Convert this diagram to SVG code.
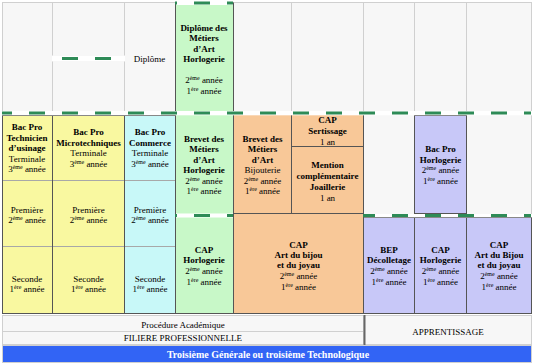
<svg xmlns="http://www.w3.org/2000/svg" width="534" height="364" viewBox="0 0 534 364">
<style>
.t{font-family:"Liberation Serif","Times New Roman",serif;font-size:9px;text-anchor:middle;fill:#000}
.b{font-weight:bold}
.lt{fill:#f7f7f7;stroke:#d0d0d0;stroke-width:1}
.ll{stroke:#d0d0d0;stroke-width:1;fill:none}
.dk{stroke:#555;stroke-width:1;fill:none}
.sep{stroke:#a8a8a8;stroke-width:1}
.yel{fill:#f9f8a0;stroke:#555;stroke-width:1}
.cya{fill:#c8f8f8;stroke:#555;stroke-width:1}
.grn{fill:#c8f8c8}
.ora{fill:#f8c898;stroke:#555;stroke-width:1}
.lav{fill:#c8c8f8;stroke:#555;stroke-width:1}
.band{fill:#fff}
.dash{stroke:#2e8b57;stroke-width:3;stroke-dasharray:16 17;fill:none}
</style>
<rect x="0" y="0" width="534" height="364" fill="#fff"/>
<!-- background grid -->
<g id="grid">
<rect class="lt" x="2.5" y="2.5" width="529" height="311"/>
<line class="ll" x1="52.5" y1="2.5" x2="52.5" y2="55.5"/>
<line class="ll" x1="52.5" y1="61.5" x2="52.5" y2="111"/>
<line class="ll" x1="124.5" y1="2.5" x2="124.5" y2="55.5"/>
<line class="ll" x1="124.5" y1="61.5" x2="124.5" y2="111"/>
<line class="ll" x1="291.5" y1="2.5" x2="291.5" y2="111"/>
<line class="ll" x1="363.5" y1="2.5" x2="363.5" y2="111"/>
<line class="ll" x1="414.5" y1="2.5" x2="414.5" y2="111"/>
<line class="ll" x1="466.5" y1="2.5" x2="466.5" y2="111"/>
</g>
<g id="diplome-label">
<text class="t" x="149.5" y="62">Diplôme</text>
</g>
<!-- green column -->
<g id="green-col">
<rect class="grn" x="175.5" y="2.5" width="58" height="311"/>
<line class="dk" x1="175.5" y1="2.5" x2="175.5" y2="313.5"/>
<line class="dk" x1="233.5" y1="2.5" x2="233.5" y2="313.5"/>
<line class="dk" x1="175.5" y1="313.5" x2="233.5" y2="313.5"/>
</g>
<g id="dma-horlogerie">
<text class="t b" x="204" y="30.5">Diplôme des</text>
<text class="t b" x="204" y="41">Métiers</text>
<text class="t b" x="204" y="51.5">d’Art</text>
<text class="t b" x="204" y="62">Horlogerie</text>
<text class="t" x="204" y="83">2<tspan dy="-3" font-size="6">ème</tspan><tspan dy="3"> année</tspan></text>
<text class="t" x="204" y="93.5">1<tspan dy="-3" font-size="6">ère</tspan><tspan dy="3"> année</tspan></text>
</g>
<g id="bma-horlogerie">
<text class="t b" x="204" y="141.5">Brevet des</text>
<text class="t b" x="204" y="152">Métiers</text>
<text class="t b" x="204" y="162.5">d’Art</text>
<text class="t b" x="204" y="173">Horlogerie</text>
<text class="t" x="204" y="183.5">2<tspan dy="-3" font-size="6">ème</tspan><tspan dy="3"> année</tspan></text>
<text class="t" x="204" y="194">1<tspan dy="-3" font-size="6">ère</tspan><tspan dy="3"> année</tspan></text>
</g>
<g id="cap-horlogerie">
<text class="t b" x="204" y="252.5">CAP</text>
<text class="t b" x="204" y="263">Horlogerie</text>
<text class="t" x="204" y="274">2<tspan dy="-3" font-size="6">ème</tspan><tspan dy="3"> année</tspan></text>
<text class="t" x="204" y="284.5">1<tspan dy="-3" font-size="6">ère</tspan><tspan dy="3"> année</tspan></text>
</g>
<!-- yellow / cyan -->
<g id="bac-technicien">
<rect class="yel" x="2.5" y="115.5" width="50" height="198"/>
<line class="sep" x1="3" y1="180.5" x2="52" y2="180.5"/>
<line class="sep" x1="3" y1="246.5" x2="52" y2="246.5"/>
<text class="t b" x="27" y="130">Bac Pro</text>
<text class="t b" x="27" y="140.5">Technicien</text>
<text class="t b" x="27" y="151">d’usinage</text>
<text class="t" x="27" y="161.5">Terminale</text>
<text class="t" x="27" y="172">3<tspan dy="-3" font-size="6">ème</tspan><tspan dy="3"> année</tspan></text>
<text class="t" x="27" y="212.5">Première</text>
<text class="t" x="27" y="223">2<tspan dy="-3" font-size="6">ème</tspan><tspan dy="3"> année</tspan></text>
<text class="t" x="27" y="281.5">Seconde</text>
<text class="t" x="27" y="292">1<tspan dy="-3" font-size="6">ère</tspan><tspan dy="3"> année</tspan></text>
</g>
<g id="bac-microtech">
<rect class="yel" x="52.5" y="115.5" width="72" height="198"/>
<line class="sep" x1="53" y1="180.5" x2="124" y2="180.5"/>
<line class="sep" x1="53" y1="246.5" x2="124" y2="246.5"/>
<text class="t b" x="88.5" y="135">Bac Pro</text>
<text class="t b" x="88.5" y="145.5">Microtechniques</text>
<text class="t" x="88.5" y="156">Terminale</text>
<text class="t" x="88.5" y="166.5">3<tspan dy="-3" font-size="6">ème</tspan><tspan dy="3"> année</tspan></text>
<text class="t" x="88.5" y="212.5">Première</text>
<text class="t" x="88.5" y="223">2<tspan dy="-3" font-size="6">ème</tspan><tspan dy="3"> année</tspan></text>
<text class="t" x="88.5" y="281.5">Seconde</text>
<text class="t" x="88.5" y="292">1<tspan dy="-3" font-size="6">ère</tspan><tspan dy="3"> année</tspan></text>
</g>
<g id="bac-commerce">
<rect class="cya" x="124.5" y="115.5" width="51" height="198"/>
<line class="sep" x1="125" y1="180.5" x2="175" y2="180.5"/>
<line class="sep" x1="125" y1="246.5" x2="175" y2="246.5"/>
<text class="t b" x="150" y="135">Bac Pro</text>
<text class="t b" x="150" y="145.5">Commerce</text>
<text class="t" x="150" y="156">Terminale</text>
<text class="t" x="150" y="166.5">3<tspan dy="-3" font-size="6">ème</tspan><tspan dy="3"> année</tspan></text>
<text class="t" x="150" y="212.5">Première</text>
<text class="t" x="150" y="223">2<tspan dy="-3" font-size="6">ème</tspan><tspan dy="3"> année</tspan></text>
<text class="t" x="150" y="281.5">Seconde</text>
<text class="t" x="150" y="292">1<tspan dy="-3" font-size="6">ère</tspan><tspan dy="3"> année</tspan></text>
</g>
<!-- orange -->
<g id="bma-bijouterie">
<rect class="ora" x="233.5" y="114.5" width="58" height="99"/>
<text class="t b" x="262.5" y="141.5">Brevet des</text>
<text class="t b" x="262.5" y="152">Métiers</text>
<text class="t b" x="262.5" y="162.5">d’Art</text>
<text class="t" x="262.5" y="173">Bijouterie</text>
<text class="t" x="262.5" y="183.5">2<tspan dy="-3" font-size="6">ème</tspan><tspan dy="3"> année</tspan></text>
<text class="t" x="262.5" y="194">1<tspan dy="-3" font-size="6">ère</tspan><tspan dy="3"> année</tspan></text>
</g>
<g id="cap-sertissage">
<rect class="ora" x="291.5" y="114.5" width="72" height="32"/>
<text class="t b" x="327.5" y="123">CAP</text>
<text class="t b" x="327.5" y="134">Sertissage</text>
<text class="t" x="327.5" y="144.5">1 an</text>
</g>
<g id="mention-joaillerie">
<rect class="ora" x="291.5" y="146.5" width="72" height="67"/>
<text class="t b" x="327.5" y="168">Mention</text>
<text class="t b" x="327.5" y="179">complémentaire</text>
<text class="t b" x="327.5" y="189.5">Joaillerie</text>
<text class="t" x="327.5" y="201">1 an</text>
</g>
<g id="cap-bijou">
<rect class="ora" x="233.5" y="213.5" width="130" height="100"/>
<text class="t b" x="298.5" y="247.5">CAP</text>
<text class="t b" x="298.5" y="257.5">Art du bijou</text>
<text class="t b" x="298.5" y="268">et du joyau</text>
<text class="t" x="298.5" y="279">2<tspan dy="-3" font-size="6">ème</tspan><tspan dy="3"> année</tspan></text>
<text class="t" x="298.5" y="289.5">1<tspan dy="-3" font-size="6">ère</tspan><tspan dy="3"> année</tspan></text>
</g>
<!-- lavender -->
<g id="bac-horlogerie">
<rect class="lav" x="414.5" y="115.5" width="52" height="98"/>
<text class="t b" x="440.5" y="152">Bac Pro</text>
<text class="t b" x="440.5" y="162.5">Horlogerie</text>
<text class="t" x="440.5" y="173">2<tspan dy="-3" font-size="6">ème</tspan><tspan dy="3"> année</tspan></text>
<text class="t" x="440.5" y="183.5">1<tspan dy="-3" font-size="6">ère</tspan><tspan dy="3"> année</tspan></text>
</g>
<line class="dk" x1="363.5" y1="114.5" x2="363.5" y2="213.5"/>
<g id="bep-decolletage">
<rect class="lav" x="363.5" y="217.5" width="51" height="96"/>
<text class="t b" x="389" y="252.5">BEP</text>
<text class="t b" x="389" y="263">Décolletage</text>
<text class="t" x="389" y="274">2<tspan dy="-3" font-size="6">ème</tspan><tspan dy="3"> année</tspan></text>
<text class="t" x="389" y="284.5">1<tspan dy="-3" font-size="6">ère</tspan><tspan dy="3"> année</tspan></text>
</g>
<g id="cap-horlogerie-app">
<rect class="lav" x="414.5" y="217.5" width="52" height="96"/>
<text class="t b" x="440.5" y="252.5">CAP</text>
<text class="t b" x="440.5" y="263">Horlogerie</text>
<text class="t" x="440.5" y="274">2<tspan dy="-3" font-size="6">ème</tspan><tspan dy="3"> année</tspan></text>
<text class="t" x="440.5" y="284.5">1<tspan dy="-3" font-size="6">ère</tspan><tspan dy="3"> année</tspan></text>
</g>
<g id="cap-bijou-app">
<rect class="lav" x="466.5" y="217.5" width="65" height="96"/>
<text class="t b" x="499" y="247.5">CAP</text>
<text class="t b" x="499" y="257.5">Art du Bijou</text>
<text class="t b" x="499" y="268">et du joyau</text>
<text class="t" x="499" y="279">2<tspan dy="-3" font-size="6">ème</tspan><tspan dy="3"> année</tspan></text>
<text class="t" x="499" y="289.5">1<tspan dy="-3" font-size="6">ère</tspan><tspan dy="3"> année</tspan></text>
</g>
<!-- dashed separators -->
<g id="connectors">
<rect class="band" x="176" y="0.5" width="57" height="4.5"/>
<rect class="band" x="52" y="56" width="73" height="5"/>
<rect class="band" x="2" y="111" width="530" height="4.3"/>
<rect class="band" x="176" y="213.5" width="57" height="4"/>
<rect class="band" x="364" y="214" width="168" height="3.3"/>
<line class="dash" x1="175" y1="3" x2="233" y2="3" stroke-dashoffset="14"/>
<line class="dash" x1="52" y1="58.5" x2="124" y2="58.5" stroke-dashoffset="23"/>
<line class="dash" x1="2" y1="113" x2="531" y2="113" stroke-dashoffset="6"/>
<line class="dash" x1="175" y1="215.5" x2="233" y2="215.5" stroke-dashoffset="14"/>
<line class="dash" x1="363" y1="215.5" x2="531" y2="215.5" stroke-dashoffset="4"/>
</g>
<!-- bottom -->
<g id="filiere">
<rect class="lt" x="2.5" y="315.5" width="361" height="29"/>
<line class="ll" x1="2.5" y1="331.5" x2="363.5" y2="331.5"/>
<text class="t" x="183" y="327.5">Procédure Académique</text>
<text class="t" x="183" y="340.5">FILIERE PROFESSIONNELLE</text>
</g>
<g id="apprentissage">
<rect class="lt" x="363.5" y="315.5" width="168" height="29"/>
<line x1="364.5" y1="315" x2="364.5" y2="345" stroke="#666" stroke-width="2"/>
<text class="t" x="448" y="334.5">APPRENTISSAGE</text>
</g>
<g id="troisieme">
<rect x="2.5" y="345.5" width="529" height="17" fill="#3264f5" stroke="#d0d0d0"/>
<text class="t b" x="268" y="357.5" style="fill:#fff;font-size:10px">Troisième Générale ou troisième Technologique</text>
</g>
</svg>
